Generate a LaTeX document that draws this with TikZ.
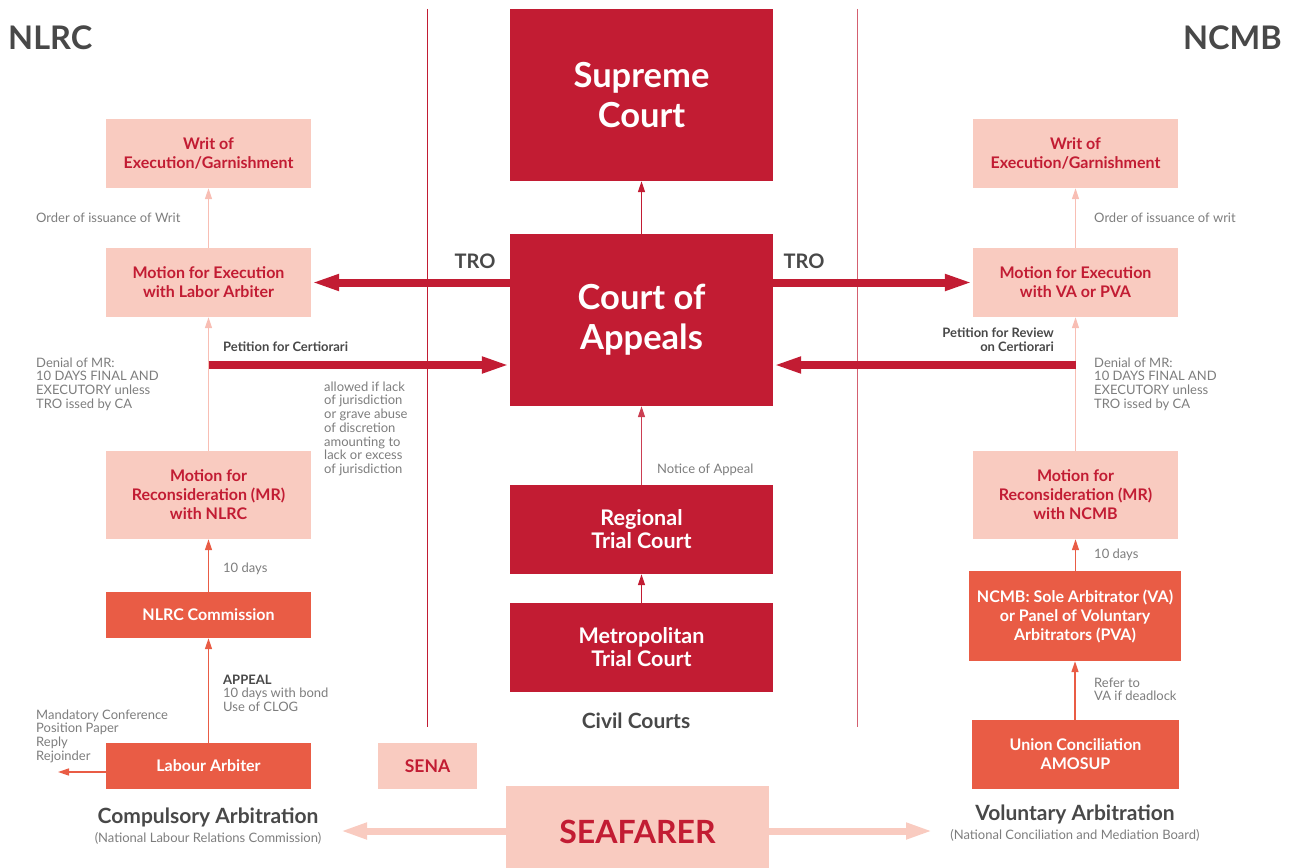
\documentclass[tikz,border=0pt]{standalone}
\usepackage{fontspec}
\setmainfont{Lato}
\usetikzlibrary{arrows.meta}
\definecolor{courtred}{RGB}{194,28,51}
\definecolor{arbitorange}{RGB}{233,92,69}
\definecolor{lightpink}{RGB}{249,203,192}
\definecolor{arrowpink}{RGB}{248,190,180}
\definecolor{notegray}{RGB}{125,125,125}
\definecolor{headgray}{RGB}{72,72,72}
\tikzset{
  courtbox/.style={fill=courtred, text=white, align=center, inner sep=0pt,
    minimum width=263pt},
  pinkbox/.style={fill=lightpink, text=courtred, align=center, inner sep=0pt,
    minimum width=205pt, font=\bfseries\fontsize{16}{19}\selectfont},
  orangebox/.style={fill=arbitorange, text=white, align=center, inner sep=0pt,
    minimum width=205pt, font=\bfseries\fontsize{16}{19}\selectfont},
  note/.style={text=notegray, align=left, inner sep=0pt,
    font=\fontsize{13}{13.7}\selectfont},
  notebold/.style={note, text=headgray, font=\bfseries\fontsize{13}{13.7}\selectfont},
  heading/.style={text=headgray, inner sep=0pt, font=\bfseries\fontsize{21}{24}\selectfont},
  thinarrow/.style={-{Triangle[length=11pt,width=7pt]}, line width=1.4pt},
  bigarrow/.style={-{Triangle[length=28pt,width=15pt]}, line width=8pt, courtred},
  seaarrow/.style={-{Triangle[length=27pt,width=15pt]}, line width=7pt, lightpink}
}
\begin{document}
\begin{tikzpicture}[x=1pt,y=-1pt]
\useasboundingbox (0,0) rectangle (1292,867);

% titles
\node[text=headgray, anchor=west, inner sep=0pt, font=\bfseries\fontsize{32.5}{36}\selectfont] (nlrc) at (8,38) {NLRC};
\node[text=headgray, anchor=east, inner sep=0pt, font=\bfseries\fontsize{32.5}{36}\selectfont] (ncmb) at (1282,38) {NCMB};

% dividers
\draw[courtred, line width=1pt] (427,9) -- (427,727);
\draw[courtred!70, line width=1pt] (857,9) -- (857,727);

% civil courts
\node[courtbox, minimum height=172pt, font=\bfseries\fontsize{34.5}{40}\selectfont] (sc) at (641.5,95) {Supreme\\Court};
\node[courtbox, minimum height=172pt, font=\bfseries\fontsize{34.5}{40}\selectfont] (ca) at (641.5,320) {Court of\\Appeals};
\node[courtbox, minimum height=89pt, font=\bfseries\fontsize{21.5}{23}\selectfont] (rtc) at (641.5,529.5) {Regional\\Trial Court};
\node[courtbox, minimum height=89pt, font=\bfseries\fontsize{21.5}{23}\selectfont] (mtc) at (641.5,647.5) {Metropolitan\\Trial Court};
\node[heading] (civil) at (636,721) {Civil Courts};

\draw[thinarrow, courtred] (ca) -- (sc);
\draw[thinarrow, courtred!85] (rtc) -- (ca);
\draw[thinarrow, courtred] (mtc) -- (rtc);
\node[note, anchor=west] (notice) at (657,470) {Notice of Appeal};

% NLRC column
\node[pinkbox, minimum height=69pt] (writl) at (208.5,153.5) {Writ of\\Execution/Garnishment};
\node[pinkbox, minimum height=69pt] (execl) at (208.5,282.5) {Motion for Execution\\with Labor Arbiter};
\node[pinkbox, minimum height=88pt] (mrl) at (208.5,495) {Motion for\\Reconsideration (MR)\\with NLRC};
\node[orangebox, minimum height=46pt] (comm) at (208.5,615) {NLRC Commission};
\node[orangebox, minimum height=46pt] (labour) at (208.5,766) {Labour Arbiter};

\draw[thinarrow, arrowpink] (execl) -- (writl);
\draw[thinarrow, arrowpink] (mrl) -- (execl);
\draw[thinarrow, arbitorange] (comm) -- (mrl);
\draw[thinarrow, arbitorange] (labour) -- (comm);
\coordinate (laout) at (58,772);
\draw[thinarrow, arbitorange] (labour.west |- laout) -- (laout);

\node[note, anchor=west] (orderl) at (36,218) {Order of issuance of Writ};
\node[note, anchor=north west] (denyl) at (36,357.5) {Denial of MR:\\10 DAYS FINAL AND\\EXECUTORY unless\\TRO issed by CA};
\node[notebold, anchor=west] (certlbl) at (223,347) {Petition for Certiorari};
\node[note, anchor=north west] (allowed) at (324,381.5) {allowed if lack\\of jurisdiction\\or grave abuse\\of discretion\\amounting to\\lack or excess\\of jurisdiction};
\node[note, anchor=west] (daysl) at (223,569) {10 days};
\node[note, anchor=north west] (appeal) at (223,674.5) {\textbf{\color{headgray}APPEAL}\\10 days with bond\\Use of CLOG};
\node[note, anchor=north west] (steps) at (36,709.5) {Mandatory Conference\\Position Paper\\Reply\\Rejoinder};
\node[heading] (compul) at (208,817) {Compulsory Arbitration};
\node[note] (compsub) at (208,838) {(National Labour Relations Commission)};

% NCMB column
\node[pinkbox, minimum height=69pt] (writr) at (1075.5,153.5) {Writ of\\Execution/Garnishment};
\node[pinkbox, minimum height=69pt] (execr) at (1075.5,282.5) {Motion for Execution\\with VA or PVA};
\node[pinkbox, minimum height=88pt] (mrr) at (1075.5,495) {Motion for\\Reconsideration (MR)\\with NCMB};
\node[orangebox, minimum width=212pt, minimum height=90pt] (panel) at (1075,616) {NCMB: Sole Arbitrator (VA)\\or Panel of Voluntary\\Arbitrators (PVA)};
\node[orangebox, minimum width=207pt, minimum height=69pt] (union) at (1075.5,754.5) {Union Conciliation\\AMOSUP};

\draw[thinarrow, arrowpink] (execr) -- (writr);
\draw[thinarrow, arrowpink] (mrr) -- (execr);
\draw[thinarrow, arbitorange] (panel.north -| mrr) -- (mrr);
\draw[thinarrow, arbitorange] (union.north -| panel) -- (panel);

\node[note, anchor=west] (orderr) at (1094,218) {Order of issuance of writ};
\node[notebold, anchor=north east, align=right] (reviewlbl) at (1054,327.5) {Petition for Review\\on Certiorari};
\node[note, anchor=north west] (denyr) at (1094,357.5) {Denial of MR:\\10 DAYS FINAL AND\\EXECUTORY unless\\TRO issed by CA};
\node[note, anchor=west] (daysr) at (1094,555) {10 days};
\node[note, anchor=north west] (refer) at (1094,677.5) {Refer to\\VA if deadlock};
\node[heading] (volun) at (1075,814) {Voluntary Arbitration};
\node[note] (volsub) at (1075,835) {(National Conciliation and Mediation Board)};

% TRO and certiorari
\draw[bigarrow] (ca.west |- execl.east) -- (execl.east);
\draw[bigarrow] (ca.east |- execr.west) -- (execr.west);
\node[heading, font=\bfseries\fontsize{20}{22}\selectfont] (trol) at (475,261) {TRO};
\node[heading, font=\bfseries\fontsize{20}{22}\selectfont] (tror) at (804,261) {TRO};
\coordinate (certl) at (208.5,365);
\coordinate (certr) at (1075.5,365);
\draw[bigarrow] (certl) -- (ca.west |- certl);
\draw[bigarrow] (certr) -- (ca.east |- certr);

% seafarer
\node[pinkbox, minimum width=99pt, minimum height=46pt, font=\bfseries\fontsize{17.5}{19}\selectfont] (sena) at (427.5,766) {SENA};
\node[pinkbox, minimum width=263pt, minimum height=92pt, font=\bfseries\fontsize{32}{36}\selectfont] (sea) at (637.5,832) {SEAFARER};
\coordinate (seal) at (340,831);
\coordinate (sear) at (933,831);
\draw[seaarrow] (sea.west |- seal) -- (seal);
\draw[seaarrow] (sea.east |- sear) -- (sear);
\end{tikzpicture}
\end{document}
